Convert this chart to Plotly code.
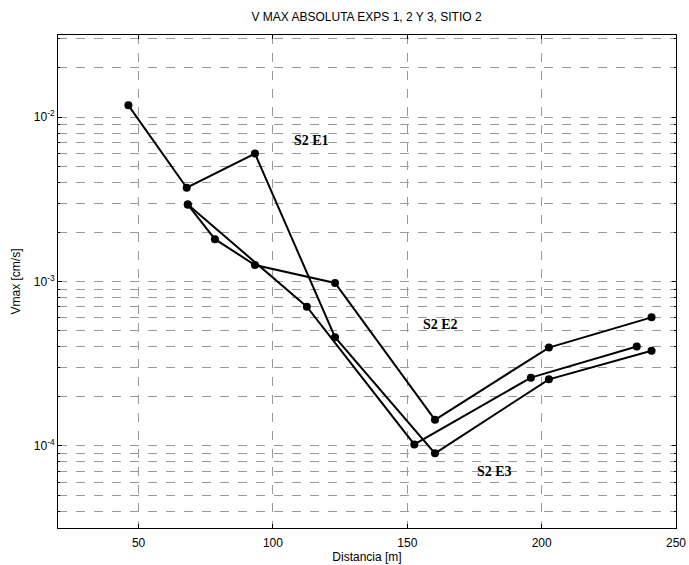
import math
import plotly.graph_objects as go

# Data (distance [m], Vmax [cm/s])
e1_x = [46.2, 67.9, 93.3, 123.1, 160.3, 202.7, 240.9]
e1_y = [0.0118, 0.00372, 0.00601, 0.000458, 0.000090, 0.000254, 0.000379]

e2_x = [68.3, 78.4, 93.3, 123.1, 160.3, 202.7, 240.9]
e2_y = [0.00294, 0.00181, 0.00126, 0.00098, 0.000144, 0.000396, 0.000605]

e3_x = [68.3, 112.6, 152.6, 196.0, 235.4]
e3_y = [0.00294, 0.000703, 0.000102, 0.000260, 0.000402]

labels = ["S2 E1", "S2 E2", "S2 E3"]
label_x = [114.4, 162.2, 182.6]
label_y = [0.00718, 0.000544, 0.0000695]

x_ticks = [50, 100, 150, 200, 250]
y_decades = [1e-4, 1e-3, 1e-2]
y_decade_text = ["10<sup>-4</sup>", "10<sup>-3</sup>", "10<sup>-2</sup>"]

# minor grid values at 2..9 x 10^k within range
y_minor = []
for d in [1e-5, 1e-4, 1e-3, 1e-2]:
    for m in range(2, 10):
        v = m * d
        if 3.2e-5 <= v <= 3.1e-2:
            y_minor.append(v)

fig = go.Figure()
for xs, ys in [(e1_x, e1_y), (e2_x, e2_y), (e3_x, e3_y)]:
    fig.add_trace(go.Scatter(
        x=xs, y=ys, mode="lines+markers",
        line=dict(color="black", width=2),
        marker=dict(color="black", size=8),
        showlegend=False,
    ))

for t, lx, ly in zip(labels, label_x, label_y):
    fig.add_annotation(x=lx, y=math.log10(ly), yref="y", xref="x",
                       text="<b>%s</b>" % t, showarrow=False,
                       font=dict(family="Liberation Serif", size=14, color="black"))

fig.update_layout(
    width=689, height=565,
    margin=dict(l=58, r=13, t=35, b=37, autoexpand=False),
    paper_bgcolor="white", plot_bgcolor="white",
    title=dict(text="V MAX ABSOLUTA EXPS 1, 2 Y 3, SITIO 2",
               x=0.532, xanchor="center", y=1 - 17 / 565, yanchor="middle",
               font=dict(family="Liberation Sans Narrow, Arial", size=12, color="black")),
    font=dict(family="Liberation Sans, Arial", size=12, color="black"),
)

fig.update_xaxes(
    range=[20, 250], tickvals=x_ticks, ticktext=[str(v) for v in x_ticks],
    showgrid=True, gridcolor="#9a9a9a", griddash="dash", gridwidth=1,
    showline=True, linecolor="black", linewidth=1, mirror="ticks",
    ticks="inside", ticklen=4, tickcolor="black",
    zeroline=False, automargin=False, ticklabelstandoff=4,
    title=dict(text="Distancia [m]", standoff=2, font=dict(size=12)),
    tickfont=dict(size=12),
)
fig.update_yaxes(
    type="log", range=[-4.5, -1.5], tickvals=y_decades, ticktext=y_decade_text,
    showgrid=True, gridcolor="#9a9a9a", griddash="dash", gridwidth=1,
    showline=True, linecolor="black", linewidth=1, mirror="ticks",
    ticks="inside", ticklen=4, tickcolor="black",
    minor=dict(tickvals=y_minor, showgrid=True, gridcolor="#9a9a9a",
               griddash="dash", gridwidth=1, ticks="inside", ticklen=2,
               tickcolor="black"),
    zeroline=False, automargin=False,
    title=dict(text="Vmax [cm/s]", standoff=10, font=dict(size=12)),
    tickfont=dict(size=12),
)

fig.write_html("out.html")
